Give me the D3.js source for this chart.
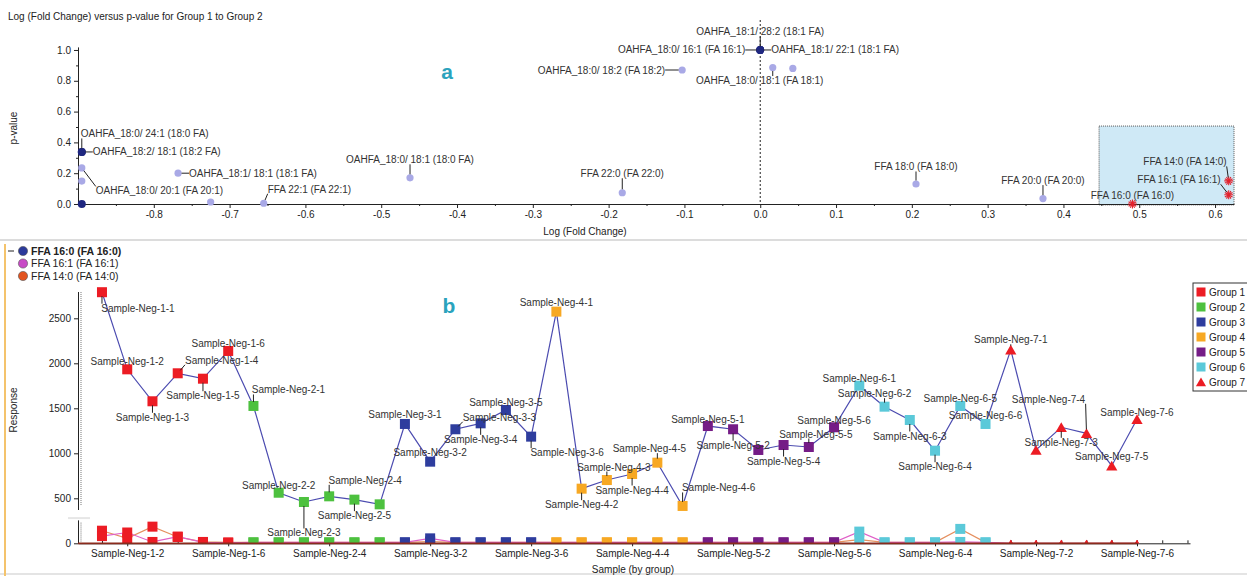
<!DOCTYPE html>
<html>
<head>
<meta charset="utf-8">
<script src="https://cdn.jsdelivr.net/npm/d3@7"></script>
<style>
  body { margin: 0; background: #fff; }
  svg { display: block; font-family: "Liberation Sans", Arial, sans-serif; }
  .lbl { font-size: 10px; fill: #333; }
  .axis text { font-size: 10px; fill: #222; }
  .axis path, .axis line { stroke: #222; }
</style>
</head>
<body>
<svg id="chart"></svg>
<script>
// ---- volcano (top) data ----
const volcanoFC = [-0.895, -0.895, -0.895, -0.895, -0.895, -0.768, -0.725, -0.655, -0.462, -0.182,
                   -0.103, 0.0, 0.0, 0.0, 0.0165, 0.043, 0.2055, 0.373, 0.491, 0.618, 0.618];
const volcanoP = [0.338, 0.338, 0.234, 0.149, 0.0, 0.20, 0.013, 0.005, 0.17, 0.073,
                  0.87, 1.0, 1.0, 1.0, 0.886, 0.88, 0.13, 0.035, 0.0, 0.15, 0.06];
const volcanoName = ["OAHFA_18:0/ 24:1 (18:0 FA)", "OAHFA_18:2/ 18:1 (18:2 FA)", "OAHFA_18:0/ 20:1 (FA 20:1)", "", "",
                     "OAHFA_18:1/ 18:1 (18:1 FA)", "", "FFA 22:1 (FA 22:1)", "OAHFA_18:0/ 18:1 (18:0 FA)", "FFA 22:0 (FA 22:0)",
                     "OAHFA_18:0/ 18:2 (FA 18:2)", "OAHFA_18:0/ 16:1 (FA 16:1)", "OAHFA_18:1/ 22:1 (18:1 FA)", "OAHFA_18:1/ 28:2 (18:1 FA)",
                     "OAHFA_18:0/ 18:1 (FA 18:1)", "", "FFA 18:0 (FA 18:0)", "FFA 20:0 (FA 20:0)",
                     "FFA 16:0 (FA 16:0)", "FFA 14:0 (FA 14:0)", "FFA 16:1 (FA 16:1)"];
const volcanoKind = ["sel", "sel", "std", "std", "sel", "std", "std", "std", "std", "std",
                     "std", "sel", "sel", "sel", "std", "std", "std", "std", "hit", "hit", "hit"];
const xTicksTop = [-0.8, -0.7, -0.6, -0.5, -0.4, -0.3, -0.2, -0.1, 0.0, 0.1, 0.2, 0.3, 0.4, 0.5, 0.6];
const yTicksTop = [0.0, 0.2, 0.4, 0.6, 0.8, 1.0];

// ---- response (bottom) data ----
const groups = ["Group 1", "Group 2", "Group 3", "Group 4", "Group 5", "Group 6", "Group 7"];
const compounds = ["FFA 16:0 (FA 16:0)", "FFA 16:1 (FA 16:1)", "FFA 14:0 (FA 14:0)"];
const ffa160 = [2790, 1933, 1578, 1889, 1829, 2137,
                1526, 562, 459, 522, 485, 433,
                1326, 907, 1267, 1333, 1481, 1185,
                2574, 607, 703, 770, 896, 415,
                1303, 1267, 1037, 1092, 1070, 1289,
                1751, 1518, 1370, 1029, 1526, 1326,
                2150, 1037, 1289, 1222, 862, 1378];
const ffa161 = [80, 120, 15, 75, 10, 5,
                10, 10, 10, 10, 10, 10,
                10, 55, 10, 10, 10, 10,
                10, 10, 10, 10, 10, 10,
                10, 10, 10, 10, 10, 10,
                130, 10, 10, 10, 15, 10,
                0, 0, 0, 0, 0, 0];
const ffa140 = [140, 55, 185, 70, 15, 10,
                10, 10, 10, 10, 10, 10,
                10, 20, 10, 10, 10, 10,
                10, 10, 10, 10, 10, 10,
                10, 10, 10, 10, 10, 10,
                40, 10, 10, 10, 160, 10,
                0, 0, 0, 0, 0, 0];
const samplesPerGroup = 6;
const samples = [];
groups.forEach((g, gi) => d3.range(samplesPerGroup).forEach(r => samples.push({ name: `Sample-Neg-${gi + 1}-${r + 1}`, group: gi })));
const xTickSamples = ["Sample-Neg-1-2", "Sample-Neg-1-6", "Sample-Neg-2-4", "Sample-Neg-3-2", "Sample-Neg-3-6", "Sample-Neg-4-4",
                      "Sample-Neg-5-2", "Sample-Neg-5-6", "Sample-Neg-6-4", "Sample-Neg-7-2", "Sample-Neg-7-6"];
const yTicksBottom = [0, 500, 1000, 1500, 2000, 2500];

// ---- styles / label layout ----
const groupColors = ["#ec1c24", "#4dc13f", "#2e3d9e", "#f7a823", "#751c86", "#5bc9d9", "#ec1c24"];
const compoundColors = ["#2b3a9a", "#c84bc6", "#e2531f"];
const lineColors = ["#4c4cb0", "#e060c8", "#e59060"];
// [anchor, dx, dy] relative to point
const volcanoLabelPos = [["start", -1, -18], ["start", 11, 0], ["start", 14, 23], null, null,
                         ["start", 11, 0], null, ["start", 4, -14], ["middle", 0, -18], ["middle", 0, -19],
                         ["end", -17, 0], ["end", -15, 0], ["start", 11, 0], ["middle", 0, -18],
                         ["middle", -13, 13], null, ["middle", 0, -17], ["middle", 0, -18],
                         ["middle", 0, -9], ["end", -2, -19], ["end", -8, -15]];
// [dx, dy] of label centre relative to point
const sampleLabelPos = [[36, 16], [0, -8], [0, 16], [44, -13], [0, 17], [0, -7],
                        [35, -16], [0, -7], [0, 31], [36, -16], [0, 16], null,
                        [0, -9], [0, -9], [44, -12], [0, 16], [0, -8], [36, 16],
                        [0, -9], [0, 16], [7, -13], [0, 16], [-8, -14], [36, -18],
                        [0, -7], [0, 16], null, [0, 16], [7, -13], [0, -7],
                        [0, -7], [-10, -13], [0, 16], [0, 16], [0, -7], [0, -8],
                        [0, -10], null, [0, 15], [-38, -34], [0, -9], [0, -7]];

const width = 1247, height = 576;
const svg = d3.select("#chart").attr("width", width).attr("height", height);

// leader line from point to nearest edge of a text box
function leader(g, px, py, node, r) {
    const b = node.getBBox();
    const nx = Math.max(b.x, Math.min(px, b.x + b.width));
    const ny = Math.max(b.y + 1, Math.min(py, b.y + b.height - 1));
    const dist = Math.hypot(nx - px, ny - py);
    if (dist <= r + 1) return;
    const k = r / dist;
    g.append("line")
        .attr("x1", px + (nx - px) * k).attr("y1", py + (ny - py) * k)
        .attr("x2", nx).attr("y2", ny)
        .attr("stroke", "#222").attr("stroke-width", 1);
}

// ================= TOP: volcano =================
const xV = d3.scaleLinear().domain([-0.9, 0.625]).range([78, 1234]);
const yV = d3.scaleLinear().domain([0, 1.02]).range([204, 46.9]);

svg.append("text")
    .attr("x", 8).attr("y", 20)
    .style("font-size", "10px").attr("fill", "#222")
    .text("Log (Fold Change) versus p-value for Group 1 to Group 2");

// selection box
svg.append("rect")
    .attr("x", xV(0.447)).attr("y", yV(0.506))
    .attr("width", xV(0.625) - xV(0.447)).attr("height", yV(-0.006) - yV(0.506))
    .attr("fill", "#cfe9f6").attr("stroke", "#555").attr("stroke-dasharray", "1,1");

// zero line
svg.append("line")
    .attr("x1", xV(0)).attr("x2", xV(0)).attr("y1", 20).attr("y2", yV(0))
    .attr("stroke", "#222").attr("stroke-dasharray", "2,2");

svg.append("g").attr("class", "axis").attr("transform", `translate(0,${yV(0)})`)
    .call(d3.axisBottom(xV).tickValues(xTicksTop).tickFormat(d => d.toFixed(1)).tickSize(4).tickSizeOuter(0));
svg.append("g").attr("class", "axis").attr("transform", `translate(0,${yV(0)})`)
    .call(d3.axisBottom(xV).tickValues(xTicksTop.map(d => d - 0.05).concat([0.65])).tickFormat("").tickSize(2))
    .select(".domain").remove();
svg.append("g").attr("class", "axis").attr("transform", `translate(${xV(-0.9)},0)`)
    .call(d3.axisLeft(yV).tickValues(yTicksTop).tickFormat(d => d.toFixed(1)).tickSize(4).tickSizeOuter(0));
svg.append("g").attr("class", "axis").attr("transform", `translate(${xV(-0.9)},0)`)
    .call(d3.axisLeft(yV).tickValues([0.1, 0.3, 0.5, 0.7, 0.9]).tickFormat("").tickSize(2))
    .select(".domain").remove();

svg.append("text")
    .attr("x", 585).attr("y", 235).attr("text-anchor", "middle")
    .style("font-size", "10px").attr("fill", "#222").text("Log (Fold Change)");
svg.append("text")
    .attr("transform", "translate(17,128) rotate(-90)").attr("text-anchor", "middle")
    .style("font-size", "10px").attr("fill", "#222").text("p-value");

svg.append("text")
    .attr("x", 447).attr("y", 79).attr("text-anchor", "middle")
    .style("font-size", "21px").style("font-weight", "bold").attr("fill", "#2aa3bd").text("a");

const gTop = svg.append("g");
const vData = volcanoFC.map((fc, i) => ({ fc, p: volcanoP[i], name: volcanoName[i], kind: volcanoKind[i], pos: volcanoLabelPos[i] }));

// draw std first, then selected, then hits
["std", "sel", "hit"].forEach(kind => {
    vData.filter(d => d.kind === kind).forEach(d => {
        const px = xV(d.fc), py = yV(d.p);
        if (kind === "hit") {
            [0, 90].forEach(rot => {
                gTop.append("path").attr("transform", `translate(${px},${py}) rotate(${rot})`)
                    .attr("d", d3.symbol(d3.symbolAsterisk, 55)())
                    .attr("stroke", "#e3202b").attr("stroke-width", 1.1).attr("fill", "none");
            });
        } else {
            gTop.append("circle").attr("cx", px).attr("cy", py)
                .attr("r", kind === "sel" ? 4 : 3.6)
                .attr("fill", kind === "sel" ? "#1f2780" : "#a9a9e6");
        }
    });
});

vData.forEach(d => {
    if (!d.pos) return;
    const px = xV(d.fc), py = yV(d.p);
    const t = gTop.append("text").attr("class", "lbl")
        .attr("x", px + d.pos[1]).attr("y", py + d.pos[2]).attr("dy", "0.35em")
        .attr("text-anchor", d.pos[0]).text(d.name);
    leader(gTop, px, py, t.node(), 3.5);
});

// ================= BOTTOM: response =================
svg.append("line").attr("x1", 0).attr("x2", width).attr("y1", 240).attr("y2", 240)
    .attr("stroke", "#dcdcdc").attr("stroke-width", 2);
svg.append("line").attr("x1", 0).attr("x2", width).attr("y1", 574).attr("y2", 574)
    .attr("stroke", "#e4e4e4").attr("stroke-width", 2);
svg.append("line").attr("x1", 5).attr("x2", 5).attr("y1", 244).attr("y2", height)
    .attr("stroke", "#f4c36c").attr("stroke-width", 2);

// compound legend (top-left)
svg.append("line").attr("x1", 8).attr("x2", 14).attr("y1", 251).attr("y2", 251).attr("stroke", "#222");
compounds.forEach((c, i) => {
    const cy = 251 + i * 12.5;
    svg.append("circle").attr("cx", 23).attr("cy", cy).attr("r", 4.6)
        .attr("fill", compoundColors[i]).attr("stroke", "#555").attr("stroke-width", 0.6);
    svg.append("text").attr("x", 31).attr("y", cy).attr("dy", "0.35em")
        .style("font-size", "10.5px").style("font-weight", i === 0 ? "bold" : "normal")
        .attr("fill", "#222").text(c);
});

const xS = d3.scaleLinear().domain([-0.95, 43.1]).range([78, 1190]);
const yS = d3.scaleLinear().domain([0, 2500]).range([543.3, 318.3]);

svg.append("defs").append("clipPath").attr("id", "plotClip")
    .append("rect").attr("x", xS.range()[0]).attr("y", 270)
    .attr("width", xS.range()[1] - xS.range()[0]).attr("height", yS(0) - 270);

// y axis
const yAx = svg.append("g").attr("class", "axis").attr("transform", `translate(${xS.range()[0]},0)`)
    .call(d3.axisLeft(yS).tickValues(yTicksBottom).tickFormat(d => String(d)).tickSize(4).tickSizeOuter(0));
yAx.select(".domain").remove();
svg.append("line").attr("x1", 78.5).attr("x2", 78.5).attr("y1", yS(2792)).attr("y2", yS(370)).attr("stroke", "#222");
svg.append("line").attr("x1", 78.5).attr("x2", 78.5).attr("y1", yS(255)).attr("y2", yS(0)).attr("stroke", "#222");
svg.append("line").attr("x1", 81).attr("x2", 81).attr("y1", yS(2792)).attr("y2", yS(420))
    .attr("stroke", "#777").attr("stroke-dasharray", "1,1");
svg.append("line").attr("x1", 81).attr("x2", 81).attr("y1", yS(230)).attr("y2", yS(20))
    .attr("stroke", "#777").attr("stroke-dasharray", "1,1");
svg.append("line").attr("x1", 68).attr("x2", 90).attr("y1", yS(280)).attr("y2", yS(280))
    .attr("stroke", "#e6e6e6").attr("stroke-width", 2);

// x axis
const xAx = svg.append("g").attr("class", "axis").attr("transform", `translate(0,${yS(0)})`)
    .call(d3.axisBottom(xS)
        .tickValues(xTickSamples.map(n => samples.findIndex(s => s.name === n)))
        .tickFormat(i => samples[i].name).tickSize(3).tickSizeOuter(0));
xAx.selectAll("text").attr("y", 7);
svg.append("g").attr("class", "axis").attr("transform", `translate(0,${yS(0)})`)
    .call(d3.axisBottom(xS).tickValues(d3.range(0, 44)).tickFormat("").tickSize(-3))
    .select(".domain").remove();

svg.append("text")
    .attr("x", 633).attr("y", 573).attr("text-anchor", "middle")
    .style("font-size", "10px").attr("fill", "#222").text("Sample (by group)");
svg.append("text")
    .attr("transform", "translate(17,410) rotate(-90)").attr("text-anchor", "middle")
    .style("font-size", "10px").attr("fill", "#222").text("Response");
svg.append("text")
    .attr("x", 449).attr("y", 313).attr("text-anchor", "middle")
    .style("font-size", "21px").style("font-weight", "bold").attr("fill", "#2aa3bd").text("b");

const plot = svg.append("g").attr("clip-path", "url(#plotClip)");

function marker(g, gi, px, py, size) {
    if (gi === 6) {
        g.append("path").attr("transform", `translate(${px},${py + size * 0.15})`)
            .attr("d", d3.symbol(d3.symbolTriangle, size * size * 0.55)())
            .attr("fill", groupColors[gi]);
    } else {
        g.append("rect").attr("x", px - size / 2).attr("y", py - size / 2)
            .attr("width", size).attr("height", size).attr("fill", groupColors[gi]);
    }
}

const line = d3.line().x((v, i) => xS(i)).y(v => yS(v));
// secondary compounds near baseline
[ffa140, ffa161].forEach((vals, k) => {
    plot.append("path").datum(vals).attr("d", line)
        .attr("fill", "none").attr("stroke", k === 0 ? lineColors[2] : lineColors[1]).attr("stroke-width", 1.2);
    vals.forEach((v, i) => marker(plot, samples[i].group, xS(i), yS(v), samples[i].group === 6 ? 7 : 10));
});
// baseline overlay where the near-zero series run
svg.append("line").attr("x1", xS.range()[0]).attr("x2", xS(41)).attr("y1", yS(0)).attr("y2", yS(0))
    .attr("stroke", "#8a2a1c").attr("stroke-width", 1.8);

// main compound
plot.append("path").datum(ffa160).attr("d", line)
    .attr("fill", "none").attr("stroke", lineColors[0]).attr("stroke-width", 1.2);
ffa160.forEach((v, i) => marker(plot, samples[i].group, xS(i), yS(v), 10));

const gLbl = svg.append("g");
ffa160.forEach((v, i) => {
    const pos = sampleLabelPos[i];
    if (!pos) return;
    const px = xS(i), py = yS(v);
    const t = gLbl.append("text").attr("class", "lbl")
        .attr("x", px + pos[0]).attr("y", py + pos[1]).attr("dy", "0.35em")
        .attr("text-anchor", "middle").text(samples[i].name);
    leader(gLbl, px, py, t.node(), 4);
});

// group legend (right)
const lg = svg.append("g").attr("transform", "translate(1193,283)");
lg.append("rect").attr("x", 0).attr("y", 0).attr("width", 60).attr("height", 108)
    .attr("fill", "#fff").attr("stroke", "#333");
groups.forEach((g, i) => {
    const cy = 9 + i * 15;
    marker(lg, i, 8, cy, 9);
    lg.append("text").attr("x", 16).attr("y", cy).attr("dy", "0.35em")
        .style("font-size", "10px").attr("fill", "#222").text(g);
});
</script>
</body>
</html>
